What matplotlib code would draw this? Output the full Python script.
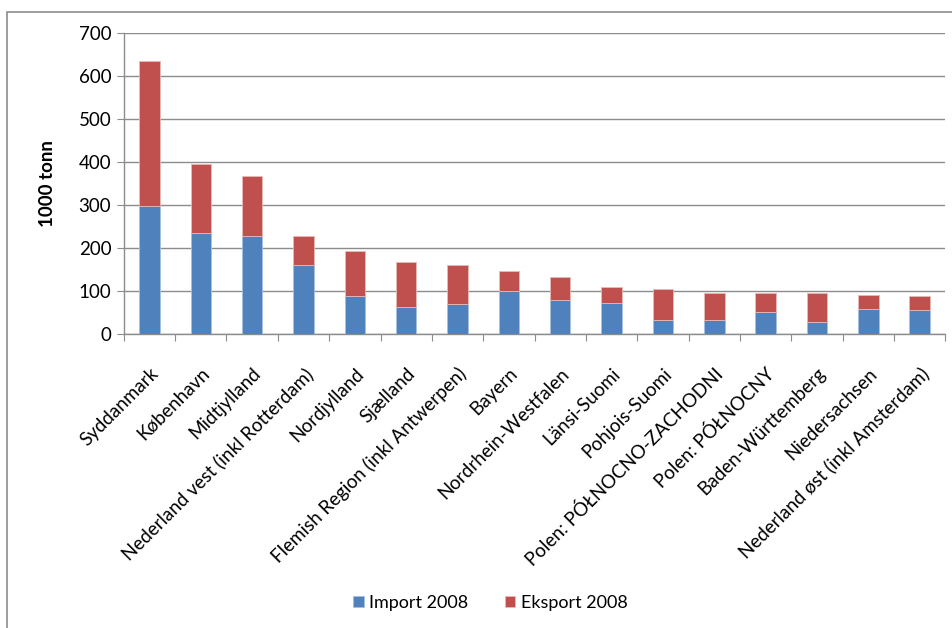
import numpy as np
import matplotlib.pyplot as plt
from matplotlib.patches import Rectangle

regions = ['Syddanmark', 'København', 'Midtjylland', 'Nederland vest (inkl Rotterdam)',
           'Nordjylland', 'Sjælland', 'Flemish Region (inkl Antwerpen)', 'Bayern',
           'Nordrhein-Westfalen', 'Länsi-Suomi', 'Pohjois-Suomi', 'Polen: PÓŁNOCNO-ZACHODNI',
           'Polen: PÓŁNOCNY', 'Baden-Württemberg', 'Niedersachsen', 'Nederland øst (inkl Amsterdam)']
import_2008 = [298, 236, 229, 160, 88, 64, 71, 101, 80, 73, 32, 32, 52, 29, 59, 56]
total_2008 = [636, 396, 369, 228, 194, 167, 160, 146, 132, 109, 105, 95, 95, 95, 91, 88]
eksport_2008 = [t - i for t, i in zip(total_2008, import_2008)]

plt.rcParams['font.family'] = ['Lato', 'DejaVu Sans']

fig = plt.figure(figsize=(9.52, 6.28), dpi=100)
ax = fig.add_axes([0.130, 0.468, 0.863, 0.479])

x = np.arange(len(regions))
ax.bar(x, import_2008, width=0.4, color='#4F81BD', edgecolor='#A7C0DE', linewidth=0.6,
       label='Import 2008', zorder=3)
ax.bar(x, eksport_2008, width=0.4, bottom=import_2008, color='#C0504D',
       edgecolor='#E6B9B8', linewidth=0.6, label='Eksport 2008', zorder=3)

ax.set_xlim(-0.5, len(regions) - 0.5)
ax.set_ylim(0, 700)
ax.set_yticks(range(0, 701, 100))
ax.yaxis.grid(True, color='#8C8C8C', linewidth=1)
ax.set_axisbelow(True)

# category ticks sit on the boundaries between bars
ax.set_xticks(np.arange(-0.5, len(regions), 1.0), minor=False)
ax.set_xticklabels([])
ax.set_xticks(x, minor=True)
ax.set_xticklabels(regions, minor=True, rotation=45, ha='right', rotation_mode='anchor',
                   fontsize=13.5)
ax.tick_params(axis='x', which='minor', length=0, pad=22)
ax.tick_params(axis='x', which='major', length=5, color='#8C8C8C', direction='out')
ax.tick_params(axis='y', length=5, color='#8C8C8C', labelsize=13.5, pad=4)

for side in ['top', 'right']:
    ax.spines[side].set_visible(False)
ax.spines['left'].set_color('#8C8C8C')
ax.spines['bottom'].set_color('#8C8C8C')
ax.spines['left'].set_linewidth(1)
ax.spines['bottom'].set_linewidth(1)

ax.set_ylabel('1000 tonn', fontsize=13.5, fontweight='bold', labelpad=16)

fig.legend(loc='center', bbox_to_anchor=(0.515, 0.04), ncol=2, frameon=False,
           fontsize=13, handlelength=0.6, handleheight=0.6, columnspacing=2.0,
           handletextpad=0.3)

# outer chart frame
fig.patches.append(Rectangle((7 / 952, -0.05), 1.2, 1 - 12 / 628 + 0.05,
                             transform=fig.transFigure, fill=False,
                             edgecolor='#8C8C8C', linewidth=1.2))

fig.savefig('out.png', dpi=100)
